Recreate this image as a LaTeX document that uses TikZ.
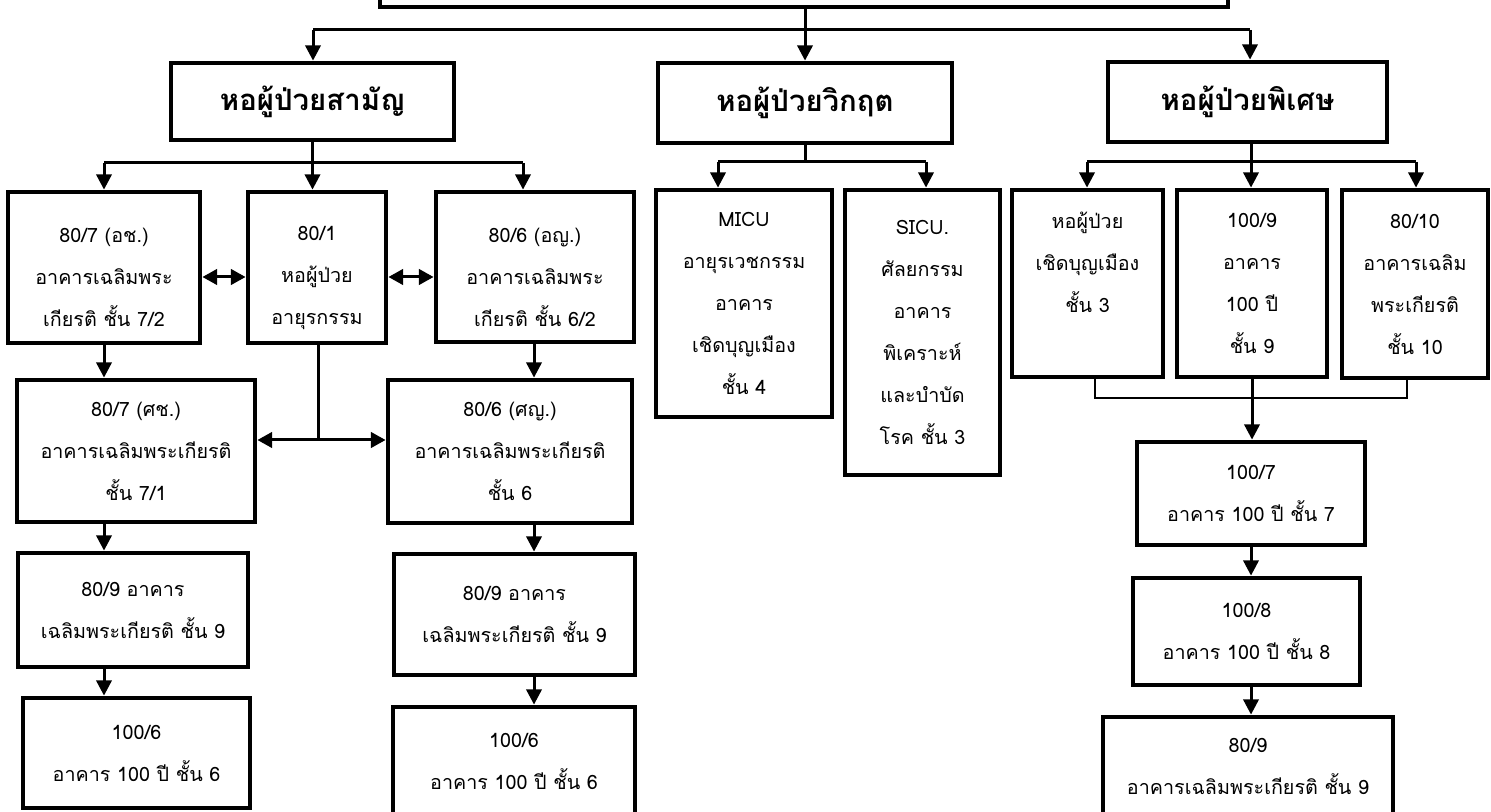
\documentclass[tikz,border=0pt]{standalone}
\usepackage{fontspec}
\setmainfont[Script=Thai]{Loma}
\usetikzlibrary{arrows.meta}

\tikzset{every picture/.style={line width=0.75pt}}
\tikzset{
  wardbox/.style={draw, line width=3.6pt, align=center, inner sep=0pt, font=\fontsize{14.8}{31.5}\selectfont},
  headbox/.style={wardbox, font=\fontsize{22}{26}\selectfont\bfseries},
  lowtext/.style={text height=89pt},
  sz/.style 2 args={minimum width=#1*0.75pt, minimum height=#2*0.75pt},
  link/.style={line width=2.25pt},
  thinlink/.style={line width=1.5pt},
  arr/.style={link, -{Triangle[width=11.5pt,length=11.5pt]}},
  darr/.style={link, {Triangle[width=11.5pt,length=11pt]}-{Triangle[width=11.5pt,length=11pt]}},
}

\begin{document}
\begin{tikzpicture}[x=0.75pt,y=0.75pt,yscale=-1,xscale=1]
        \useasboundingbox (0,0) rectangle (1491,812);

        %Shape: Rectangle [id:top]
        \node [wardbox, sz={848}{47}] (top) at (804,-16.5) {};

        % Heads
        \node [headbox, sz={283}{77}] (gen) at (312.5,101.5) {หอผู้ป่วยสามัญ};
        \node [headbox, sz={294}{80}] (crit) at (805,103) {หอผู้ป่วยวิกฤต};
        \node [headbox, sz={279}{80}] (spc) at (1247.5,102) {หอผู้ป่วยพิเศษ};

        % Text Node - general wards
        \node [wardbox, lowtext, sz={192}{151}] (a1) at (104,267.5) {80/7 (อช.)\\อาคารเฉลิมพระ\\เกียรติ ชั้น 7/2};
        \node [wardbox, lowtext, sz={138}{151}] (a2) at (317,267.5) {80/1\\หอผู้ป่วย\\อายุรกรรม};
        \node [wardbox, lowtext, sz={198}{150}] (a3) at (535,267) {80/6 (อญ.)\\อาคารเฉลิมพระ\\เกียรติ ชั้น 6/2};
        \node [wardbox, sz={238}{142}] (b1) at (136,451) {80/7 (ศช.)\\อาคารเฉลิมพระเกียรติ\\ชั้น 7/1};
        \node [wardbox, sz={244}{143}] (b3) at (510,451.5) {80/6 (ศญ.)\\อาคารเฉลิมพระเกียรติ\\ชั้น 6};
        \node [wardbox, sz={230}{114}] (c1) at (133,610) {80/9 อาคาร\\เฉลิมพระเกียรติ ชั้น 9};
        \node [wardbox, sz={241}{121}] (c3) at (514.5,614.5) {80/9 อาคาร\\เฉลิมพระเกียรติ ชั้น 9};
        \node [wardbox, sz={227}{110}] (d1) at (136.5,753) {100/6\\อาคาร 100 ปี ชั้น 6};
        \node [wardbox, sz={242}{108}] (d3) at (514,761) {100/6\\อาคาร 100 ปี ชั้น 6};

        % Text Node - critical wards
        \node [wardbox, sz={176}{227}] (micu) at (744,303.5) {MICU\\อายุรเวชกรรม\\อาคาร\\เชิดบุญเมือง\\ชั้น 4};
        \node [wardbox, sz={155}{285}] (sicu) at (922.5,332.5) {SICU.\\ศัลยกรรม\\อาคาร\\พิเคราะห์\\และบำบัด\\โรค ชั้น 3};

        % Text Node - special wards
        \node [wardbox, sz={151}{187}] (e1) at (1087.5,283.5) {หอผู้ป่วย\\เชิดบุญเมือง\\ชั้น 3\\~};
        \node [wardbox, sz={150}{187}] (e2) at (1252,283.5) {100/9\\อาคาร\\100 ปี\\ชั้น 9};
        \node [wardbox, sz={146}{188}] (e3) at (1415,284) {80/10\\อาคารเฉลิม\\พระเกียรติ\\ชั้น 10};
        \node [wardbox, sz={228}{103}] (f1) at (1251,493.5) {100/7\\อาคาร 100 ปี ชั้น 7};
        \node [wardbox, sz={227}{107}] (f2) at (1246.5,631.5) {100/8\\อาคาร 100 ปี ชั้น 8};
        \node [wardbox, sz={290}{98}] (f3) at (1248,766) {80/9\\อาคารเฉลิมพระเกียรติ ชั้น 9};

        % Coordinates for the elbows
        \coordinate (t1) at (313,30);
        \coordinate (t2) at (1250,30);
        \coordinate (g1) at (104,163);
        \coordinate (g2) at (523,163);
        \coordinate (k1) at (718,162);
        \coordinate (k2) at (926,162);
        \coordinate (s1) at (1087,162);
        \coordinate (s2) at (1416,162);
        \coordinate (h1) at (200,277);
        \coordinate (m1) at (318,440);
        \coordinate (j1) at (1095,398);
        \coordinate (j2) at (1407,398);
        \coordinate (colA) at (104,0);
        \coordinate (colB) at (534,0);
        \coordinate (colC) at (1251,0);

        %Straight Lines - top level
        \draw [link] (t1) -- (t2);
        \draw [arr] (t1) -- (t1 |- gen.north);
        \draw [arr] (t2) -- (t2 |- spc.north);
        \draw [arr] (top.south -| crit.north) -- (crit.north);

        %Straight Lines - general
        \draw [link] (gen.south) -- (gen.south |- g1);
        \draw [link] (g1) -- (g2);
        \draw [arr] (g1) -- (g1 |- a1.north);
        \draw [arr] (gen.south |- g1) -- (gen.south |- a2.north);
        \draw [arr] (g2) -- (g2 |- a3.north);
        \draw [darr] (a1.east |- h1) -- (a2.west |- h1);
        \draw [darr] (a2.east |- h1) -- (a3.west |- h1);
        \draw [link] (m1 |- a2.south) -- (m1);
        \draw [darr] (b1.east |- m1) -- (b3.west |- m1);
        \draw [arr] (colA |- a1.south) -- (colA |- b1.north);
        \draw [arr] (colA |- b1.south) -- (colA |- c1.north);
        \draw [arr] (colA |- c1.south) -- (colA |- d1.north);
        \draw [arr] (colB |- a3.south) -- (colB |- b3.north);
        \draw [arr] (colB |- b3.south) -- (colB |- c3.north);
        \draw [arr] (colB |- c3.south) -- (colB |- d3.north);

        %Straight Lines - critical
        \draw [link] (crit.south) -- (crit.south |- k1);
        \draw [link] (k1) -- (k2);
        \draw [arr] (k1) -- (k1 |- micu.north);
        \draw [arr] (k2) -- (k2 |- sicu.north);

        %Straight Lines - special
        \draw [link] (colC |- spc.south) -- (colC |- s1);
        \draw [link] (s1) -- (s2);
        \draw [arr] (s1) -- (s1 |- e1.north);
        \draw [arr] (colC |- s1) -- (colC |- e2.north);
        \draw [arr] (s2) -- (s2 |- e3.north);
        \draw [thinlink] (j1 |- e1.south) -- (j1) -- (j2) -- (j2 |- e3.south);
        \draw [link] (e2.south) -- (e2.south |- j1);
        \draw [arr] (e2.south |- j1) -- (e2.south |- f1.north);
        \draw [arr] (colC |- f1.south) -- (colC |- f2.north);
        \draw [arr] (colC |- f2.south) -- (colC |- f3.north);

    \end{tikzpicture}
\end{document}
